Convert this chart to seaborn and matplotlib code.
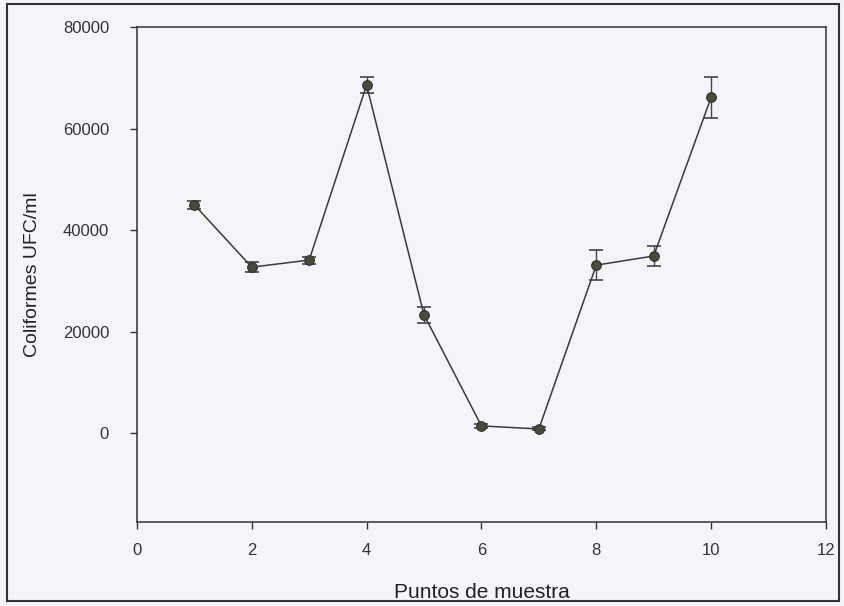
import matplotlib
matplotlib.use("Agg")
import matplotlib.pyplot as plt
import seaborn as sns
import pandas as pd

# coliform counts per sampling point
puntos = [1, 2, 3, 4, 5, 6, 7, 8, 9, 10]
ufc = [45000, 32700, 34100, 68600, 23300, 1400, 800, 33100, 34900, 66200]
error = [800, 1000, 700, 1500, 1600, 400, 300, 2900, 1900, 4000]

df = pd.DataFrame({"punto": puntos, "ufc": ufc, "err": error})

sns.set_style("white")
plt.rcParams["font.family"] = ["Liberation Sans", "DejaVu Sans"]

fig = plt.figure(figsize=(8.45, 6.06), dpi=100, facecolor="#f3f5f9")
ax = fig.add_axes([0.162, 0.139, 0.8155, 0.816])
ax.set_facecolor("#f3f5f9")

ax.errorbar(df["punto"], df["ufc"], yerr=df["err"], fmt="none",
            ecolor="#444444", elinewidth=1, capsize=5, capthick=1.2)
sns.lineplot(data=df, x="punto", y="ufc", ax=ax, color="#3a3a3a",
             linewidth=1.1, marker="o", markersize=7,
             markerfacecolor="#4a4a38", markeredgecolor="#2e2e2e")

ax.set_xlim(0, 12)
ax.set_ylim(-17500, 80000)
ax.set_xticks(range(0, 13, 2))
ax.set_yticks([0, 20000, 40000, 60000, 80000])
ax.tick_params(axis="both", direction="out", length=5, width=1,
               labelsize=12, colors="#333333", bottom=True, left=True)
ax.tick_params(axis="x", pad=10)
ax.tick_params(axis="y", pad=15)
for s in ax.spines.values():
    s.set_color("#333333")
    s.set_linewidth(1.1)

ax.set_xlabel("Puntos de muestra", fontsize=15, color="#222222", labelpad=18)
ax.set_ylabel("Coliformes UFC/ml", fontsize=14, color="#222222", labelpad=16)

# outer frame of the scanned figure
fig.patches.append(plt.Rectangle((0.008, 0.008), 0.985, 0.985,
                                 transform=fig.transFigure, fill=False,
                                 edgecolor="#333333", linewidth=1.5))

fig.savefig("out.png", dpi=100, facecolor=fig.get_facecolor())
